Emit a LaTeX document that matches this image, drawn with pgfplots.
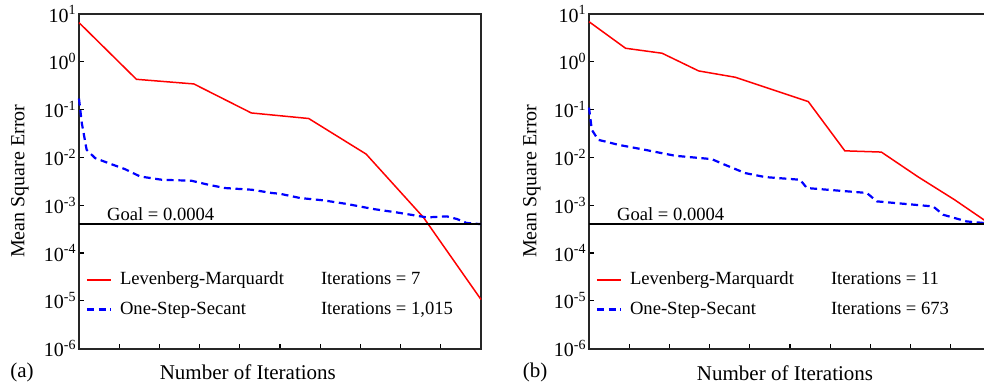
\documentclass[border=0pt]{standalone}
\usepackage{pgfplots}
\pgfplotsset{compat=1.18}
\usepackage{fontspec}
\setmainfont{Liberation Serif}
\tikzset{
  lm/.style={red, line width=0.75pt},
  oss/.style={blue, line width=1.1pt, dash pattern=on 3.5pt off 2.3pt},
}
\begin{document}
\begin{tikzpicture}
% ---------------- panel (a) ----------------
\begin{axis}[
    scale only axis, width=201pt, height=167.25pt, anchor=south west, at={(39.5pt,20.75pt)},
    ymode=log, xmin=0, xmax=10, ymin=1e-6, ymax=10, clip=false,
    xtick={1,2,3,4,5,6,7,8,9}, xticklabels={},
    ytick={1e-6,1e-5,1e-4,1e-3,1e-2,1e-1,1,10},
    yticklabels={10\textsuperscript{-6},10\textsuperscript{-5},10\textsuperscript{-4},10\textsuperscript{-3},10\textsuperscript{-2},10\textsuperscript{-1},10\textsuperscript{0},10\textsuperscript{1}},
    yminorticks=false,
    tick align=inside, tick pos=left, major tick length=2.5pt,
    axis line style={line width=1pt, black!85},
    tick style={line width=0.6pt, black},
    yticklabel style={font=\fontsize{10}{11}\selectfont, inner sep=1pt},
    legend style={draw=none, fill=none, inner sep=0pt, outer sep=0pt,
      font=\fontsize{9.3}{11}\selectfont, row sep=3pt,
      nodes={inner xsep=4pt},
      at={(axis description cs:0.017,0.1614)}, anchor=west},
    legend cell align=left,
    legend image code/.code={\draw[#1] (0pt,0pt) -- (12pt,0pt);},
  ]
\addplot[lm] coordinates {
 (0,6.6) (1.4286,0.43) (2.8571,0.344) (4.2857,0.085) (5.7143,0.065)
 (7.1429,0.0117) (8.5714,0.00055) (10,1.06e-5)};
\addlegendentry{\makebox[100.5pt][l]{Levenberg-Marquardt}Iterations = 7}
\addplot[oss] coordinates {
 (0,0.17) (0.07,0.052) (0.19,0.0144) (0.40,0.00966) (0.73,0.00759)
 (1.14,0.00569) (1.52,0.00398) (2.06,0.0034) (2.80,0.00324) (3.22,0.00267)
 (3.63,0.00228) (4.30,0.0021) (4.79,0.0018) (5.0,0.00173) (5.50,0.00141)
 (6.08,0.00126) (6.66,0.00106) (7.32,0.00083) (7.90,0.000705) (8.40,0.000601)
 (8.65,0.000554) (9.15,0.000582) (9.40,0.000513) (9.64,0.000424) (10,0.0004)};
\addlegendentry{\makebox[100.5pt][l]{One-Step-Secant}Iterations = 1,015}
\addplot[black, line width=0.75pt, forget plot] coordinates {(0,0.0004) (10,0.0004)};
\node[anchor=west, font=\fontsize{9.3}{11}\selectfont, inner sep=0pt] at (axis cs:0.69,0.00066) {Goal = 0.0004};
\node[font=\fontsize{10.5}{12}\selectfont] at (axis description cs:0.42,-0.07) {Number of Iterations};
\node[font=\fontsize{10.5}{12}\selectfont] at (axis description cs:-0.142,-0.073) {(a)};
\node[rotate=90, font=\fontsize{10}{12}\selectfont] at (axis description cs:-0.147,0.5) {Mean Square Error};
\end{axis}
% ---------------- panel (b) ----------------
\begin{axis}[
    scale only axis, width=201pt, height=167.25pt, anchor=south west, at={(294.5pt,20.75pt)},
    ymode=log, xmin=0, xmax=10, ymin=1e-6, ymax=10, clip=false,
    xtick={1,2,3,4,5,6,7,8,9}, xticklabels={},
    ytick={1e-6,1e-5,1e-4,1e-3,1e-2,1e-1,1,10},
    yticklabels={10\textsuperscript{-6},10\textsuperscript{-5},10\textsuperscript{-4},10\textsuperscript{-3},10\textsuperscript{-2},10\textsuperscript{-1},10\textsuperscript{0},10\textsuperscript{1}},
    yminorticks=false,
    tick align=inside, tick pos=left, major tick length=2.5pt,
    axis line style={line width=1pt, black!85},
    tick style={line width=0.6pt, black},
    yticklabel style={font=\fontsize{10}{11}\selectfont, inner sep=1pt},
    legend style={draw=none, fill=none, inner sep=0pt, outer sep=0pt,
      font=\fontsize{9.3}{11}\selectfont, row sep=3pt,
      nodes={inner xsep=4pt},
      at={(axis description cs:0.017,0.1614)}, anchor=west},
    legend cell align=left,
    legend image code/.code={\draw[#1] (0pt,0pt) -- (12pt,0pt);},
  ]
\addplot[lm] coordinates {
 (0,6.9) (0.9091,1.92) (1.8182,1.51) (2.7273,0.644) (3.6364,0.475)
 (4.5455,0.264) (5.4545,0.147) (6.3636,0.0137) (7.2727,0.0129)
 (8.1818,0.00393) (9.0909,0.0013) (10,0.00039)};
\addlegendentry{\makebox[100.5pt][l]{Levenberg-Marquardt}Iterations = 11}
\addplot[oss] coordinates {
 (0,0.11) (0.07,0.0377) (0.23,0.0233) (0.73,0.0183) (1.39,0.0144)
 (2.14,0.0108) (3.05,0.0092) (3.38,0.007) (3.88,0.0047) (4.38,0.00387)
 (5.25,0.0034) (5.42,0.00228) (6.91,0.0018) (7.16,0.0012) (8.56,0.00094)
 (8.81,0.00063) (9.39,0.000457) (9.81,0.000424) (10,0.0004)};
\addlegendentry{\makebox[100.5pt][l]{One-Step-Secant}Iterations = 673}
\addplot[black, line width=0.75pt, forget plot] coordinates {(0,0.0004) (10,0.0004)};
\node[anchor=west, font=\fontsize{9.3}{11}\selectfont, inner sep=0pt] at (axis cs:0.69,0.00066) {Goal = 0.0004};
\node[font=\fontsize{10.5}{12}\selectfont] at (axis description cs:0.4876,-0.073) {Number of Iterations};
\node[font=\fontsize{10.5}{12}\selectfont] at (axis description cs:-0.134,-0.073) {(b)};
\node[rotate=90, font=\fontsize{10}{12}\selectfont] at (axis description cs:-0.142,0.5) {Mean Square Error};
\end{axis}
\pgfresetboundingbox
\useasboundingbox (0pt,0pt) rectangle (492pt,195pt);
\end{tikzpicture}
\end{document}
